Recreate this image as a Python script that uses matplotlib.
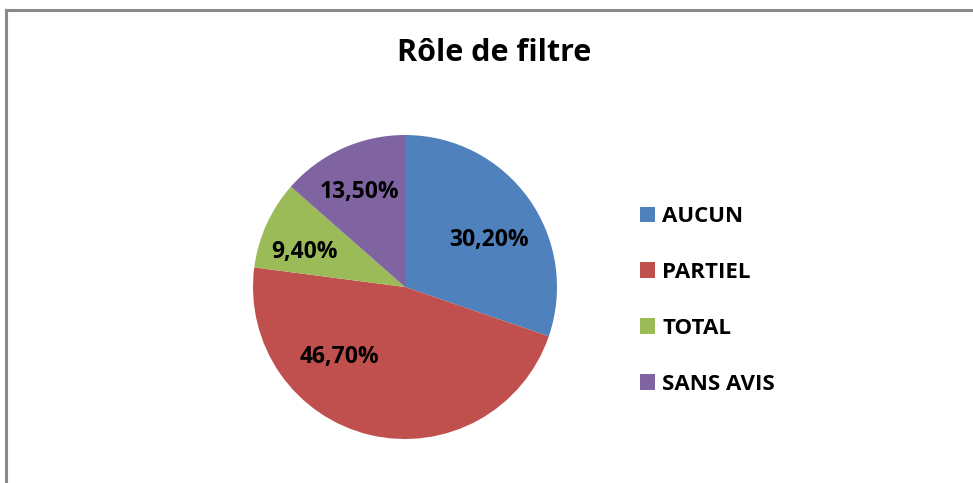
import matplotlib.pyplot as plt
from matplotlib.patches import Patch
from matplotlib.lines import Line2D

# data
categories = ['AUCUN', 'PARTIEL', 'TOTAL', 'SANS AVIS']
values = [30.2, 46.7, 9.4, 13.5]
pct_labels = ['30,20%', '46,70%', '9,40%', '13,50%']
colors = ['#4F81BD', '#C0504D', '#9BBB59', '#8064A2']
# label positions inside the pie (Excel "best fit"), in radius units
label_pos = [(0.55, 0.31), (-0.43, -0.46), (-0.66, 0.23), (-0.30, 0.625)]

plt.rcParams['font.family'] = ['Open Sans', 'DejaVu Sans']

W, H = 973, 483
fig = plt.figure(figsize=(W / 100, H / 100), dpi=100)

# pie axes: center (405, 287), radius 152 px
cx, cy, r = 405, 287, 152
ax = fig.add_axes([(cx - r) / W, (H - cy - r) / H, 2 * r / W, 2 * r / H])
wedges, _ = ax.pie(values, colors=colors, startangle=90, counterclock=False,
                   radius=1, wedgeprops=dict(linewidth=0))
ax.set_xlim(-1, 1)
ax.set_ylim(-1, 1)
ax.set_aspect('equal')
ax.axis('off')

for txt, (x, y) in zip(pct_labels, label_pos):
    ax.text(x, y, txt, ha='center', va='center', fontsize=16.5,
            fontweight='bold', color='black')

fig.text(494 / W, 1 - 53 / H, 'Rôle de filtre', ha='center', va='center',
         fontsize=22, fontweight='bold')

handles = [Patch(facecolor=c, edgecolor='none') for c in colors]
fig.legend(handles, categories, loc='upper left',
           bbox_to_anchor=(620 / W, 1 - 186 / H), frameon=False,
           prop=dict(size=16, weight='bold'), handlelength=0.68,
           handleheight=0.68, handletextpad=0.32, labelspacing=1.57)

# chart border (only top and left edges visible)
fig.add_artist(Line2D([6 / W, 6 / W], [0, 1 - 9.5 / H], color='#898989', lw=2.2))
fig.add_artist(Line2D([6 / W, 1], [1 - 9.5 / H, 1 - 9.5 / H], color='#898989', lw=2.2))

fig.savefig('out.png', dpi=100, facecolor='white')
